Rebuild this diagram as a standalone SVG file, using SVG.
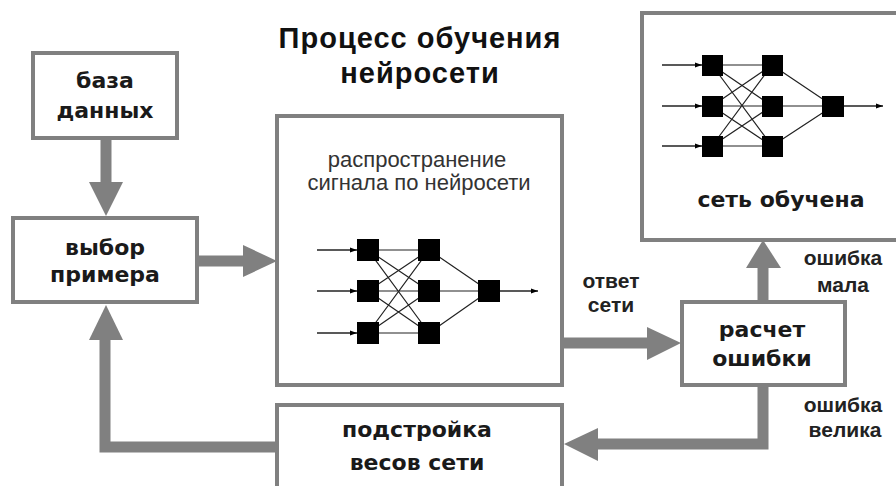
<svg xmlns="http://www.w3.org/2000/svg" width="896" height="486" viewBox="0 0 896 486">
<style>
.box{fill:#fff;stroke:#808080;stroke-width:4}
.lbl{font-family:"DejaVu Sans",Verdana,sans-serif;font-weight:bold;font-size:22px;fill:#1a1a1a;text-anchor:middle}
.title{font-family:"Liberation Sans",Arial,sans-serif;font-weight:bold;font-size:29px;letter-spacing:1px;fill:#111;text-anchor:middle}
.small{font-family:"Liberation Sans",Arial,sans-serif;font-size:22px;fill:#333;text-anchor:middle}
.note{font-family:"Liberation Sans",Arial,sans-serif;font-weight:bold;font-size:21px;fill:#222;text-anchor:middle}
.shaft{fill:none;stroke:#808080;stroke-width:11}
.head{fill:#808080}
.syn{stroke:#222;stroke-width:1.2;fill:none}
.in{stroke:#222;stroke-width:1.3;fill:none;marker-end:url(#ah)}
.neu{fill:#000}
</style>
<defs>
<marker id="ah" viewBox="0 0 10 10" refX="10" refY="5" markerWidth="7" markerHeight="7" markerUnits="userSpaceOnUse" orient="auto">
<path d="M0,1.5 L10,5 L0,8.5 Z" fill="#000"/>
</marker>
</defs>
<rect width="896" height="486" fill="#fff"/>

<g id="title">
<text class="title" x="420" y="48">Процесс обучения</text>
<text class="title" x="420" y="83">нейросети</text>
</g>

<g id="connectors">
<line class="shaft" x1="106" y1="138" x2="106" y2="184"/>
<polygon class="head" points="89,182 123,182 106,216"/>
<line class="shaft" x1="197" y1="261" x2="245" y2="261"/>
<polygon class="head" points="243,245 243,277 277,261"/>
<line class="shaft" x1="562" y1="343" x2="649" y2="343"/>
<polygon class="head" points="647,327 647,360 681,343"/>
<line class="shaft" x1="763" y1="302" x2="763" y2="265"/>
<polygon class="head" points="746,268 781,268 763,240"/>
<polyline class="shaft" points="763,385 763,444 596,444"/>
<polygon class="head" points="598,428 598,461 564,444"/>
<polyline class="shaft" points="277,447 105,447 105,338"/>
<polygon class="head" points="89,340 123,340 106,305"/>
</g>

<g id="db">
<rect class="box" x="33" y="53" width="144" height="85"/>
<text class="lbl" x="105" y="88">база</text>
<text class="lbl" x="105" y="118">данных</text>
</g>

<g id="select">
<rect class="box" x="13" y="218" width="184" height="84"/>
<text class="lbl" x="105" y="255">выбор</text>
<text class="lbl" x="105" y="282">примера</text>
</g>

<g id="propagate">
<rect class="box" x="277" y="116" width="285" height="269"/>
<text class="small" x="417" y="167">распространение</text>
<text class="small" x="419" y="190">сигнала по нейросети</text>
<g>
<line class="in" x1="317" y1="250" x2="357" y2="250"/>
<line class="in" x1="317" y1="291" x2="357" y2="291"/>
<line class="in" x1="317" y1="333" x2="357" y2="333"/>
<path class="syn" d="M368,250L429,250M368,250L429,291M368,250L429,333M368,291L429,250M368,291L429,291M368,291L429,333M368,333L429,250M368,333L429,291M368,333L429,333M429,250L489,291M429,291L489,291M429,333L489,291"/>
<line class="in" x1="489" y1="291" x2="538" y2="291"/>
<rect class="neu" x="357" y="239" width="22" height="22"/>
<rect class="neu" x="357" y="280" width="22" height="22"/>
<rect class="neu" x="357" y="322" width="22" height="22"/>
<rect class="neu" x="418" y="239" width="22" height="22"/>
<rect class="neu" x="418" y="280" width="22" height="22"/>
<rect class="neu" x="418" y="322" width="22" height="22"/>
<rect class="neu" x="478" y="280" width="22" height="22"/>
</g>
</g>

<g id="trained">
<rect class="box" x="642" y="13" width="270" height="227"/>
<line class="in" x1="662" y1="65" x2="702" y2="65"/>
<line class="in" x1="662" y1="106" x2="702" y2="106"/>
<line class="in" x1="662" y1="146" x2="702" y2="146"/>
<path class="syn" d="M712,65L772,65M712,65L772,106M712,65L772,146M712,106L772,65M712,106L772,106M712,106L772,146M712,146L772,65M712,146L772,106M712,146L772,146M772,65L833,106M772,106L833,106M772,146L833,106"/>
<line class="in" x1="833" y1="106" x2="883" y2="106"/>
<rect class="neu" x="702" y="55" width="21" height="21"/>
<rect class="neu" x="702" y="96" width="21" height="21"/>
<rect class="neu" x="702" y="136" width="21" height="21"/>
<rect class="neu" x="762" y="55" width="21" height="21"/>
<rect class="neu" x="762" y="96" width="21" height="21"/>
<rect class="neu" x="762" y="136" width="21" height="21"/>
<rect class="neu" x="822" y="96" width="22" height="21"/>
<text class="lbl" x="781" y="207">сеть обучена</text>
</g>

<g id="error">
<rect class="box" x="682" y="302" width="163" height="83"/>
<text class="lbl" x="762" y="337">расчет</text>
<text class="lbl" x="762" y="366">ошибки</text>
</g>

<g id="adjust">
<rect class="box" x="277" y="405" width="285" height="90"/>
<text class="lbl" x="417" y="437">подстройка</text>
<text class="lbl" x="417" y="470">весов сети</text>
</g>

<g id="labels">
<text class="note" x="611" y="288">ответ</text>
<text class="note" x="611" y="312">сети</text>
<text class="note" x="843" y="265">ошибка</text>
<text class="note" x="843" y="292">мала</text>
<text class="note" x="843" y="412">ошибка</text>
<text class="note" x="845" y="437">велика</text>
</g>
</svg>
